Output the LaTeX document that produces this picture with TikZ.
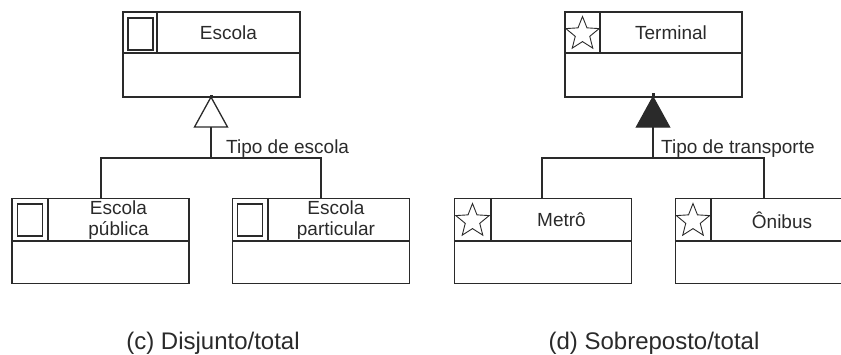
\documentclass[tikz,border=0pt]{standalone}
\usepackage{fontspec}
\setmainfont{Liberation Sans}
\usetikzlibrary{shapes.geometric}
\definecolor{ink}{HTML}{2A2A2A}
\tikzset{
  umlbox/.style={draw=ink, line width=1.3pt, minimum width=177pt, minimum height=85pt, inner sep=0pt},
  sep/.style={draw=ink, line width=1.3pt},
  conn/.style={draw=ink, line width=1.3pt},
  lbl/.style={font=\fontsize{19}{22}\selectfont, text=ink, inner sep=0pt, align=center},
  captext/.style={font=\fontsize{24}{28}\selectfont, text=ink, inner sep=0pt},
  iconsq/.style={draw=ink, line width=1.3pt, minimum width=25pt, minimum height=32pt, inner sep=0pt},
  iconstar/.style={star, star points=5, star point ratio=2.3, draw=ink, line width=0.9pt, minimum size=35pt, inner sep=0pt},
}
\begin{document}
\begin{tikzpicture}[x=1pt,y=-1pt]
\useasboundingbox (0,0) rectangle (841,354);
\clip (0,0) rectangle (841,354);
% ---------- (c) ----------
\node[umlbox] (esc) at (211.5,54.5) {};
\draw[sep] (esc.west |- 0,53) -- (esc.east |- 0,53);
\draw[sep] (157,0 |- esc.north) -- (157,53);
\node[iconsq] (escI) at (140.5,34) {};
\node[lbl] (escT) at (228.5,33) {Escola};

\node[umlbox] (pub) at (100.5,241) {};
\draw[sep] (pub.west |- 0,241) -- (pub.east |- 0,241);
\draw[sep] (48,0 |- pub.north) -- (48,241);
\node[iconsq] (pubI) at (30,220) {};
\node[lbl] (pubT) at (118.5,220) {Escola\\[-1pt]pública};

\node[umlbox] (par) at (321,241) {};
\draw[sep] (par.west |- 0,241) -- (par.east |- 0,241);
\draw[sep] (268,0 |- par.north) -- (268,241);
\node[iconsq] (parI) at (250,220) {};
\node[lbl] (parT) at (336,220) {Escola\\[-1pt]particular};

\coordinate (escA) at (211,97);
\coordinate (escB) at (211,127);
\coordinate (escJ) at (211,158);
\draw[conn, fill=white, line join=miter] (escA) -- (194.5,127) -- (227.5,127) -- cycle;
\fill[ink] (209.5,95) rectangle (212.5,98);
\draw[conn] (escB) -- (escJ);
\draw[conn] (pub.north -| 101,0) |- (escJ) -| (par.north -| 321,0);
\node[lbl, anchor=base west] (escL) at (226,153) {Tipo de escola};
\node[captext] (capC) at (213,343) {(c) Disjunto/total};

% ---------- (d) ----------
\node[umlbox] (ter) at (653.5,54.5) {};
\draw[sep] (ter.west |- 0,53) -- (ter.east |- 0,53);
\draw[sep] (600,0 |- ter.north) -- (600,53);
\node[iconstar] (terI) at (582.5,34) {};
\node[lbl] (terT) at (671,33) {Terminal};

\node[umlbox] (met) at (543,241) {};
\draw[sep] (met.west |- 0,241) -- (met.east |- 0,241);
\draw[sep] (491,0 |- met.north) -- (491,241);
\node[iconstar] (metI) at (472.5,221) {};
\node[lbl] (metT) at (561.5,220) {Metrô};

\node[umlbox] (oni) at (764,241) {};
\draw[sep] (oni.west |- 0,241) -- (oni.east |- 0,241);
\draw[sep] (711,0 |- oni.north) -- (711,241);
\node[iconstar] (oniI) at (693,221) {};
\node[lbl] (oniT) at (782,220) {Ônibus};

\coordinate (terA) at (653,97);
\coordinate (terB) at (653,127);
\coordinate (terJ) at (653,158);
\draw[conn, fill=ink, line join=miter] (terA) -- (636.5,127) -- (669.5,127) -- cycle;
\fill[ink] (651.5,93) rectangle (654.5,98);
\draw[conn] (terB) -- (terJ);
\draw[conn] (met.north -| 542,0) |- (terJ) -| (oni.north -| 764,0);
\node[lbl, anchor=base west] (terL) at (661,153) {Tipo de transporte};
\node[captext] (capD) at (654,343) {(d) Sobreposto/total};
\end{tikzpicture}
\end{document}
